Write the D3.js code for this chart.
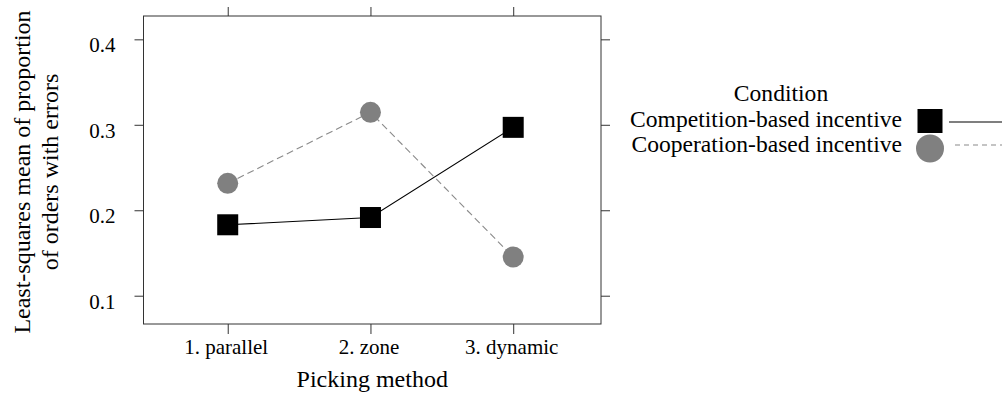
<!DOCTYPE html>
<html><head><meta charset="utf-8">
<script src="https://cdn.jsdelivr.net/npm/d3@7"></script>
<style>
html,body{margin:0;padding:0;background:#fff;}
text{font-family:"Liberation Serif","Times New Roman",serif;fill:#000;}
</style></head>
<body>
<svg id="c" width="1002" height="393"></svg>
<script>
const categories = ["1. parallel", "2. zone", "3. dynamic"];
const seriesNames = ["Competition-based incentive", "Cooperation-based incentive"];
const competition = [0.183, 0.1915, 0.297];
const cooperation = [0.2315, 0.3146, 0.1453];
const yTicks = [0.1, 0.2, 0.3, 0.4];
const xTitle = "Picking method";
const yTitle = ["Least-squares mean of proportion", "of orders with errors"];
const legendTitle = "Condition";

const svg = d3.select("#c");
const L = 143.5, R = 601, T = 16, B = 324;
const x = d3.scaleLinear().domain([0.41, 3.615]).range([L, R]);
const y = d3.scaleLinear().domain([0.0669, 0.4273]).range([B, T]);
const idx = categories.map((d, i) => i + 1);
const axisColor = "#333";

// box
svg.append("rect").attr("x", L).attr("y", T).attr("width", R - L).attr("height", B - T)
  .attr("fill", "none").attr("stroke", axisColor).attr("stroke-width", 1);

function styleAxis(g) {
  g.select(".domain").remove();
  g.attr("font-family", null);
  g.selectAll(".tick line").attr("stroke", axisColor);
}
// bottom axis
const gb = svg.append("g").attr("transform", `translate(0,${B})`)
  .call(d3.axisBottom(x).tickValues(idx).tickSize(10).tickFormat((d) => categories[d - 1]));
styleAxis(gb);
gb.selectAll(".tick text").attr("y", 30).attr("dy", 0).attr("dx", -2)
  .style("font-size", "21px").attr("fill", "#000");
// top axis
const gt = svg.append("g").attr("transform", `translate(0,${T})`)
  .call(d3.axisTop(x).tickValues(idx).tickSize(9).tickFormat(""));
styleAxis(gt);
// left axis
const gl = svg.append("g").attr("transform", `translate(${L},0)`)
  .call(d3.axisLeft(y).tickValues(yTicks).tickSize(9).tickFormat(d3.format(".1f")));
styleAxis(gl);
gl.selectAll(".tick text").attr("x", -28).attr("dy", 0).attr("y", 12.5)
  .style("font-size", "21px").attr("fill", "#000");
// right axis
const gr = svg.append("g").attr("transform", `translate(${R},0)`)
  .call(d3.axisRight(y).tickValues(yTicks).tickSize(9).tickFormat(""));
styleAxis(gr);

// axis titles
svg.append("text").attr("x", (L + R) / 2).attr("y", 387).attr("text-anchor", "middle")
  .style("font-size", "24px").text(xTitle);
const yt = svg.append("text").attr("transform", "translate(0,172) rotate(-90)")
  .attr("text-anchor", "middle").style("font-size", "24px");
yt.append("tspan").attr("x", 0).attr("y", 30).text(yTitle[0]);
yt.append("tspan").attr("x", 0).attr("y", 58).text(yTitle[1]);

// lines
const line = d3.line().x((d, i) => x(idx[i])).y((d) => y(d));
svg.append("path").datum(competition).attr("d", line).attr("fill", "none")
  .attr("stroke", "#000").attr("stroke-width", 1.1);
svg.append("path").datum(cooperation).attr("d", line).attr("fill", "none")
  .attr("stroke", "#8a8a8a").attr("stroke-width", 1.1).attr("stroke-dasharray", "7,4");

// points
const sq = 21;
svg.selectAll(".sq").data(competition).enter().append("rect")
  .attr("x", (d, i) => x(idx[i]) - sq / 2).attr("y", (d) => y(d) - sq / 2)
  .attr("width", sq).attr("height", sq).attr("fill", "#000");
svg.selectAll(".ci").data(cooperation).enter().append("circle")
  .attr("cx", (d, i) => x(idx[i])).attr("cy", (d) => y(d)).attr("r", 10.5).attr("fill", "#808080");

// legend
svg.append("text").attr("x", 781).attr("y", 101).attr("text-anchor", "middle")
  .style("font-size", "23.6px").text(legendTitle);
const legY = [127, 152];
seriesNames.forEach((name, i) => {
  svg.append("text").attr("x", 902).attr("y", legY[i]).attr("text-anchor", "end")
    .style("font-size", "23.6px").text(name);
});
svg.append("rect").attr("x", 930 - 12.5).attr("y", 121.5 - 12.5).attr("width", 25).attr("height", 24).attr("fill", "#000");
svg.append("circle").attr("cx", 930).attr("cy", 148.5).attr("r", 14).attr("fill", "#808080");
svg.append("line").attr("x1", 949).attr("x2", 1010).attr("y1", 122).attr("y2", 122)
  .attr("stroke", "#000").attr("stroke-width", 1.1);
svg.append("line").attr("x1", 955).attr("x2", 1010).attr("y1", 145).attr("y2", 145)
  .attr("stroke", "#8a8a8a").attr("stroke-width", 1.1).attr("stroke-dasharray", "5,4");
</script>
</body></html>
